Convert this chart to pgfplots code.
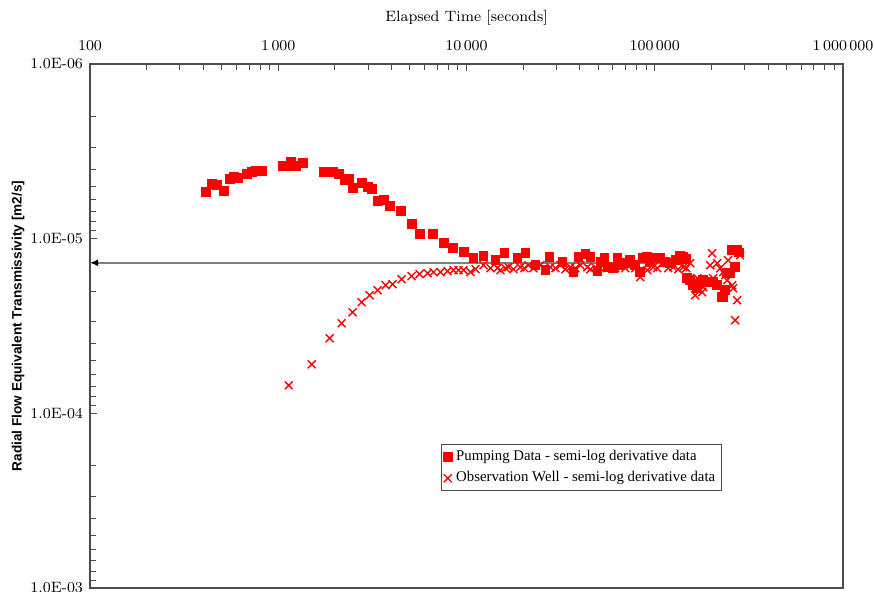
\documentclass[border=0pt]{standalone}
\usepackage{fontspec}
\usepackage{pgfplots}
\pgfplotsset{compat=1.18}
\usetikzlibrary{arrows.meta}
\newfontfamily\arialfont{Liberation Sans}
\newfontfamily\timesfont{Liberation Serif}

\pgfplotstableread{
t T
413 5.41e-6
444 4.87e-6
472 4.94e-6
514 5.34e-6
553 4.56e-6
581 4.44e-6
610 4.50e-6
681 4.27e-6
723 4.16e-6
760 4.10e-6
818 4.10e-6
1057 3.84e-6
1110 3.84e-6
1165 3.64e-6
1238 3.84e-6
1349 3.69e-6
1743 4.16e-6
1946 4.16e-6
2094 4.27e-6
2253 4.62e-6
2366 4.56e-6
2485 5.13e-6
2773 4.81e-6
2985 5.07e-6
3133 5.20e-6
3373 6.10e-6
3627 6.02e-6
3904 6.51e-6
4466 6.96e-6
5107 8.26e-6
5632 9.42e-6
6602 9.42e-6
7551 1.061e-5
8428 1.133e-5
9641 1.195e-5
10890 1.293e-5
12310 1.260e-5
14250 1.319e-5
15910 1.211e-5
18650 1.293e-5
20560 1.211e-5
23230 1.419e-5
26250 1.516e-5
27560 1.276e-5
32310 1.364e-5
36940 1.556e-5
39280 1.276e-5
42800 1.227e-5
45490 1.276e-5
49550 1.536e-5
51390 1.364e-5
53970 1.293e-5
55980 1.457e-5
60220 1.476e-5
63260 1.293e-5
65610 1.419e-5
71480 1.381e-5
74130 1.328e-5
78820 1.419e-5
83780 1.556e-5
86900 1.293e-5
91250 1.276e-5
94650 1.364e-5
103100 1.293e-5
106960 1.293e-5
113700 1.364e-5
120800 1.381e-5
130100 1.328e-5
136600 1.260e-5
141670 1.276e-5
146950 1.311e-5
148730 1.684e-5
154300 1.729e-5
160100 1.847e-5
168100 1.921e-5
180900 1.729e-5
197000 1.776e-5
204300 1.776e-5
214600 1.847e-5
228100 2.164e-5
230900 2.164e-5
236600 1.973e-5
242400 1.577e-5
251500 1.577e-5
257700 1.164e-5
260900 1.164e-5
267400 1.456e-5
274000 1.164e-5
280000 1.200e-5
}\pumping

\pgfplotstableread{
t T
1137 6.91e-5
1506 5.24e-5
1876 3.72e-5
2173 3.05e-5
2485 2.64e-5
2773 2.31e-5
3058 2.108e-5
3373 1.973e-5
3718 1.847e-5
4050 1.823e-5
4521 1.707e-5
5107 1.640e-5
5632 1.597e-5
6211 1.577e-5
6683 1.556e-5
7280 1.556e-5
7930 1.536e-5
8531 1.516e-5
9070 1.516e-5
9641 1.516e-5
10500 1.556e-5
11160 1.496e-5
12310 1.419e-5
13410 1.476e-5
14610 1.476e-5
15150 1.516e-5
16100 1.476e-5
16710 1.457e-5
17760 1.496e-5
19340 1.457e-5
20310 1.476e-5
21330 1.419e-5
22670 1.476e-5
24700 1.419e-5
26250 1.496e-5
27910 1.457e-5
29660 1.476e-5
31530 1.419e-5
33510 1.496e-5
35620 1.457e-5
37860 1.476e-5
40260 1.419e-5
43850 1.457e-5
45490 1.496e-5
48340 1.457e-5
51390 1.476e-5
53310 1.364e-5
58060 1.457e-5
61730 1.476e-5
67220 1.364e-5
69760 1.476e-5
74130 1.419e-5
78820 1.476e-5
83780 1.662e-5
91250 1.516e-5
98170 1.457e-5
103100 1.476e-5
110950 1.381e-5
117900 1.476e-5
125300 1.457e-5
133200 1.496e-5
141670 1.457e-5
146950 1.476e-5
154300 1.381e-5
164000 2.108e-5
168100 1.684e-5
174300 1.776e-5
178600 2.026e-5
180900 1.896e-5
197000 1.419e-5
201800 1.211e-5
204300 1.684e-5
214600 1.381e-5
222600 1.476e-5
230900 1.556e-5
236600 1.619e-5
242400 1.729e-5
245400 1.328e-5
257700 1.847e-5
260900 1.921e-5
267400 2.931e-5
274000 2.251e-5
284100 1.243e-5
}\observation

\begin{document}
\begin{tikzpicture}
\begin{axis}[
  at={(0,0)}, anchor=south west,
  scale only axis, width=376.5pt, height=262pt,
  xmode=log, ymode=log, y dir=reverse,
  xmin=100, xmax=1000000, ymin=1e-6, ymax=1e-3,
  xtick={100,1000,10000,100000,1000000},
  xticklabels={100,1\,000,10\,000,100\,000,1\,000\,000},
  minor xtick={200,300,400,500,600,700,800,900,2000,3000,4000,5000,6000,7000,8000,9000,20000,30000,40000,50000,60000,70000,80000,90000,200000,300000,400000,500000,600000,700000,800000,900000},
  ytick={1e-6,1e-5,1e-4,1e-3},
  yticklabels={1.0E-06,1.0E-05,1.0E-04,1.0E-03},
  minor ytick={2e-6,3e-6,4e-6,5e-6,6e-6,7e-6,8e-6,9e-6,2e-5,3e-5,4e-5,5e-5,6e-5,7e-5,8e-5,9e-5,2e-4,3e-4,4e-4,5e-4,6e-4,7e-4,8e-4,9e-4},
  xtick pos=right, xticklabel pos=right,
  ytick pos=left,
  tick align=inside,
  major tick length=3.5pt, minor tick length=3pt,
  every tick/.style={gray!60!black, line width=0.5pt},
  axis line style={gray!60!black, line width=0.8pt},
  tick label style={font=\fontsize{7.5}{9}\selectfont, text=black},
  xticklabel style={yshift=3pt},
  xlabel={Elapsed Time [seconds]},
  xlabel style={font=\fontsize{7.5}{9}\selectfont, at={(axis description cs:0.5,1)}, anchor=center, yshift=23pt},
  ylabel={\arialfont\bfseries Radial Flow Equivalent Transmissivity [m2/s]},
  ylabel style={font=\fontsize{6.8}{8}\selectfont, at={(axis description cs:0,0.5)}, anchor=center, yshift=36pt},
  legend style={at={(0.466,0.275)}, anchor=north west, draw=gray!60!black, line width=0.5pt,
    font=\timesfont\fontsize{7.4}{8.5}\selectfont, inner xsep=1pt, inner ysep=1pt,
    row sep=0pt, legend cell align=left},
  legend image code/.code={\draw[#1] plot coordinates {(0.1cm,0cm)};},
]
\addplot[only marks, mark=square*, mark size=2.2pt, color=red, fill=red] table[x=t, y=T] {\pumping};
\addlegendentry{Pumping Data - semi-log derivative data}
\addplot[only marks, mark=x, mark size=2.8pt, color=red, line width=0.7pt] table[x=t, y=T] {\observation};
\addlegendentry{Observation Well - semi-log derivative data}
\addplot[gray, line width=0.9pt, -{Latex[black, length=4pt, width=3.5pt]}, forget plot] coordinates {(156000,1.375e-5) (100,1.375e-5)};
\end{axis}
\pgfresetboundingbox
\useasboundingbox (-45pt,-1.5pt) rectangle (392pt,294pt);
\end{tikzpicture}
\end{document}
